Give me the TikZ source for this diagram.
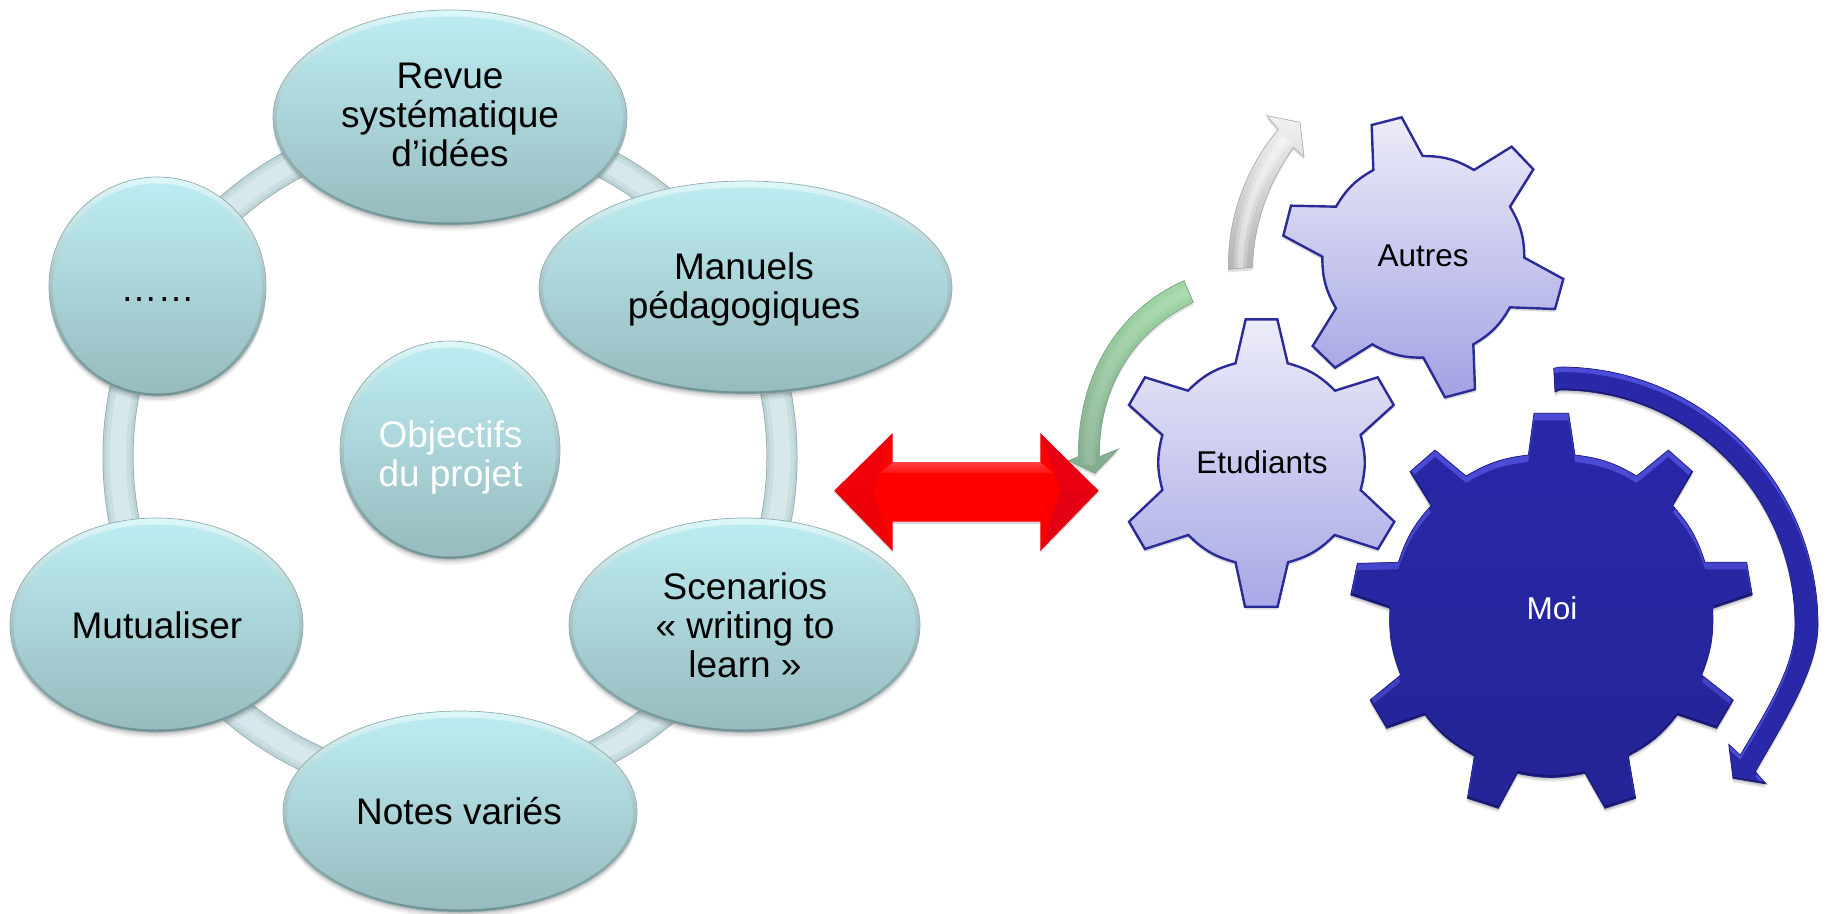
\documentclass[tikz,border=0pt]{standalone}
\usepackage{fontspec}
\setmainfont{Liberation Sans}
\definecolor{ringA}{HTML}{8FA9AC}
\definecolor{ringB}{HTML}{BCD2D5}
\definecolor{ringC}{HTML}{C9DEE1}
\definecolor{ringD}{HTML}{D6E8EA}
\definecolor{bubtop}{HTML}{BCECF1}
\definecolor{bubbot}{HTML}{97BBBF}
\definecolor{bubetop}{HTML}{DDF8FA}
\definecolor{bubebot}{HTML}{6F9195}
\definecolor{bubline}{HTML}{93ABAE}
\definecolor{gearline}{HTML}{2B2B98}
\definecolor{moimain}{HTML}{2828A8}
\definecolor{moibot}{HTML}{242496}
\definecolor{graytop}{HTML}{F2F2F2}
\definecolor{graybot}{HTML}{B4B4B4}
\definecolor{greentop}{HTML}{9FD8A3}
\definecolor{greenbot}{HTML}{82AC8E}
\definecolor{greenline}{HTML}{7E9E88}
\definecolor{rA}{HTML}{FF0000}
\definecolor{rB}{HTML}{E80012}
\definecolor{rC}{HTML}{E40012}
\definecolor{rD}{HTML}{F00008}
\definecolor{rE}{HTML}{EE0008}
\definecolor{rF}{HTML}{FF4040}
\definecolor{rG}{HTML}{FF1010}
\definecolor{gearlight}{HTML}{ECECF9}
\definecolor{gearA}{HTML}{A2A2E3}
\definecolor{gearE}{HTML}{A8A8E6}
\definecolor{moihi}{HTML}{4C4CD8}
\definecolor{moihib}{HTML}{3A3AB8}
\definecolor{moiline}{HTML}{1E1E85}
\definecolor{moidark}{HTML}{191975}
\tikzset{
  lab/.style={font=\fontsize{37}{39}\selectfont,align=center,text=black,inner sep=0pt},
  gearlab/.style={font=\fontsize{31.5}{36}\selectfont,text=black,inner sep=0pt},
  zoomed/.style={x=0.33333pt,y=-0.33333pt},
}
\newcommand{\bubble}[9]{% name cx cy rx ry color tx ty text
  \foreach \s/\o in {6/.05,4/.07,2/.10}{
    \fill[black,opacity=\o] (#2,#3+\s) ellipse [x radius=#4,y radius=#5];}
  \shade[top color=bubetop,bottom color=bubebot] (#2,#3) ellipse [x radius=#4,y radius=#5];
  \shade[top color=bubtop,bottom color=bubbot] (#2,#3+2) ellipse [x radius=#4-4,y radius=#5-4.5];
  \draw[bubline,line width=.7pt] (#2,#3) ellipse [x radius=#4,y radius=#5];
  \node[lab,text=#6] (#1) at (#7,#8) {#9};
}
\newcommand{\autrespath}{(815,105) -- (905,82) -- (968,198) to[bend left=15] (1122,240) -- (1235,170) -- (1300,238) -- (1230,350) to[bend left=15] (1273,503) -- (1390,567) -- (1365,657) -- (1230,652) to[bend left=15] (1120,763) -- (1125,898) -- (1035,922) -- (970,803) to[bend left=15] (817,763) -- (705,833) -- (638,768) -- (708,655) to[bend left=15] (667,500) -- (550,437) -- (573,347) -- (708,350) to[bend left=15] (820,240) -- cycle}
\newcommand{\etupath}{(1245.7,319.3) -- (1277.3,319.3) -- (1287.7,363.3) to[bend left=15] (1335,390.7) -- (1377.7,377.3) -- (1393.7,405) -- (1360.6,435) to[bend left=15] (1360.6,490) -- (1394.3,521.7) -- (1377.9,549) -- (1334.6,535) to[bend left=15] (1288,562.3) -- (1277.6,606.7) -- (1245,606.7) -- (1235.5,562.3) to[bend left=15] (1188.4,535) -- (1145,549) -- (1129,521.7) -- (1162.4,490) to[bend left=15] (1162.4,435) -- (1129,405) -- (1145,377.3) -- (1188,390.7) to[bend left=15] (1235.5,363.3) -- cycle}
\newcommand{\moipath}{(612,190) -- (716,190) -- (735,315) to[bend left=12] (920,378) -- (1015,300) -- (1088,365) -- (1028,467) to[bend left=12] (1125,637) -- (1250,637) -- (1267,735) -- (1148,775) to[bend left=12] (1115,975) -- (1210,1050) -- (1160,1135) -- (1042,1095) to[bend left=12] (895,1218) -- (917,1345) -- (825,1375) -- (765,1270) to[bend left=12] (562,1270) -- (505,1375) -- (412,1345) -- (433,1218) to[bend left=12] (285,1095) -- (170,1135) -- (120,1050) -- (212,975) to[bend left=12] (180,775) -- (62,735) -- (82,640) -- (205,637) to[bend left=12] (303,467) -- (240,365) -- (315,300) -- (408,378) to[bend left=12] (595,315) -- cycle}
\newcommand{\moiarrowpath}{(1553.7,368.3) -- (1560,367) .. controls (1702.5,367) and (1818,482.5) .. (1818,625) .. controls (1818,668) and (1785,720) .. (1755.3,771.7) -- (1766.3,784) -- (1733,778.3) -- (1728.7,744.3) -- (1740.3,755) .. controls (1770,705) and (1795,665) .. (1795,625) .. controls (1795,495) and (1690,390) .. (1560,390) -- (1555,392) -- cycle}
\newcommand{\grayarrowpath}{(385,538) .. controls (382,380) and (440,230) .. (535,118) -- (500,77) -- (600,97) -- (612,200) -- (580,172) .. controls (510,270) and (460,395) .. (458,532) -- cycle}
\newcommand{\greenarrowpath}{(1184,280.7) .. controls (1122,308) and (1078,370) .. (1078.3,456.7) -- (1068.3,460.7) -- (1095,473.3) -- (1118.3,449) -- (1099.3,456.7) .. controls (1099,385) and (1135,330) .. (1193.3,302.3) -- cycle}
\newcommand{\redpath}{(834.4,490.7) -- (892.6,433.3) -- (892.6,462.3) -- (1040.3,462.3) -- (1040.3,433.3) -- (1098.5,490.7) -- (1040.3,550.7) -- (1040.3,521.7) -- (892.6,521.7) -- (892.6,550.7) -- cycle}
\begin{document}
\begin{tikzpicture}[x=1pt,y=-1pt]
\useasboundingbox (0,0) rectangle (1827,913);
\fill[white] (0,0) rectangle (1827,913);
% ring
\draw[ringA,line width=31pt] (450,457) circle [radius=332];
\draw[ringB,line width=29.5pt] (450,457) circle [radius=332];
\draw[ringC,line width=24pt] (450,457) circle [radius=332];
\draw[ringD,line width=16pt] (450,457) circle [radius=332];
% bubbles
\bubble{revue}{450}{117.5}{177}{107.5}{black}{450}{115}{Revue\\systématique\\d’idées}
\bubble{manuels}{745.5}{287.5}{206.5}{106.5}{black}{744}{289}{Manuels\\pédagogiques}
\bubble{dots}{157.5}{286.5}{108.5}{109.5}{black}{157.5}{300}{……}
\bubble{objectifs}{450}{450}{110}{109}{white}{450.5}{457}{Objectifs\\du projet}
\bubble{mutualiser}{156.5}{625}{146.5}{107}{black}{157}{625}{Mutualiser}
\bubble{scenarios}{744.5}{625}{175.5}{107}{black}{745}{625}{Scenarios\\« writing to\\learn »}
\bubble{notes}{460}{811.5}{177}{100.5}{black}{459}{811}{Notes variés}
% gray arrow
\begin{scope}[zoomed,shift={(1100pt,-90pt)}]
  \fill[black,opacity=.12,yshift=-3pt] \grayarrowpath;
  \shade[top color=graytop,bottom color=graybot] \grayarrowpath;
  \begin{scope}
    \clip \grayarrowpath;
    \draw[white,opacity=.25,line width=13pt] (421,540) .. controls (420,385) and (475,250) .. (557,145);
    \draw[white,opacity=.35,line width=6pt] (421,540) .. controls (420,385) and (475,250) .. (557,145);
  \end{scope}
  \draw[gray!70,line width=.6pt] \grayarrowpath;
\end{scope}
% green arrow
\fill[black,opacity=.12,yshift=-3pt] \greenarrowpath;
\shade[top color=greentop,bottom color=greenbot] \greenarrowpath;
\begin{scope}
  \clip \greenarrowpath;
  \draw[white,opacity=.08,line width=14pt] (1188.6,291.5) .. controls (1128,320) and (1088.5,378) .. (1089,465);
  \draw[white,opacity=.08,line width=8pt] (1188.6,291.5) .. controls (1128,320) and (1088.5,378) .. (1089,465);
\end{scope}
\draw[greenline,line width=.7pt] \greenarrowpath;
% red double arrow
\fill[black,opacity=.18,yshift=-2pt] \redpath;
\fill[rA] \redpath;
\fill[rB] (1040.3,433.3) -- (1060,490.7) -- (1098.5,490.7) -- cycle;
\fill[rC] (1040.3,550.7) -- (1060,490.7) -- (1098.5,490.7) -- cycle;
\fill[rD] (892.6,433.3) -- (873,490.7) -- (834.4,490.7) -- cycle;
\fill[rE] (892.6,550.7) -- (873,490.7) -- (834.4,490.7) -- cycle;
\shade[top color=rF,bottom color=rG] (892.6,462.3) -- (1040.3,462.3) -- (1053,473) -- (880,473) -- cycle;
% Autres gear
\begin{scope}[zoomed,shift={(1100pt,-90pt)}]
  \fill[black,opacity=.14,yshift=-3pt] \autrespath;
  \shade[shading angle=-160,top color=gearlight,bottom color=gearA] \autrespath;
  \draw[gearline,line width=2.4pt,line join=miter] \autrespath;
\end{scope}
\node[gearlab] (autres) at (1423,256) {Autres};
% Etudiants gear
\fill[black,opacity=.14,yshift=-3pt] \etupath;
\shade[top color=gearlight,bottom color=gearE] \etupath;
\draw[gearline,line width=2.4pt,line join=miter] \etupath;
\node[gearlab] (etudiants) at (1262,462) {Etudiants};
% Moi gear
\begin{scope}[zoomed,shift={(1330pt,-350pt)}]
  \fill[black,opacity=.10,yshift=-4pt] \moipath;
  \fill[black,opacity=.14,yshift=-2pt] \moipath;
  \fill[moidark] \moipath;
  \begin{scope}
    \clip \moipath;
    \shade[top color=moihi,bottom color=moihib,yshift=3pt] \moipath;
    \clip[yshift=3pt] \moipath;
    \shade[top color=moimain,bottom color=moibot,yshift=-7pt] \moipath;
  \end{scope}
  \draw[moiline,line width=.7pt] \moipath;
\end{scope}
% Moi arrow
\fill[black,opacity=.10,yshift=-4pt] \moiarrowpath;
\fill[black,opacity=.14,yshift=-2pt] \moiarrowpath;
\fill[moidark] \moiarrowpath;
\begin{scope}
  \clip \moiarrowpath;
  \fill[moihi,yshift=2pt] \moiarrowpath;
  \clip[yshift=2pt] \moiarrowpath;
  \fill[moimain,yshift=-5pt] \moiarrowpath;
\end{scope}
\draw[moiline,line width=.7pt] \moiarrowpath;
\node[gearlab,text=white] (moi) at (1552,608) {Moi};
\end{tikzpicture}
\end{document}
